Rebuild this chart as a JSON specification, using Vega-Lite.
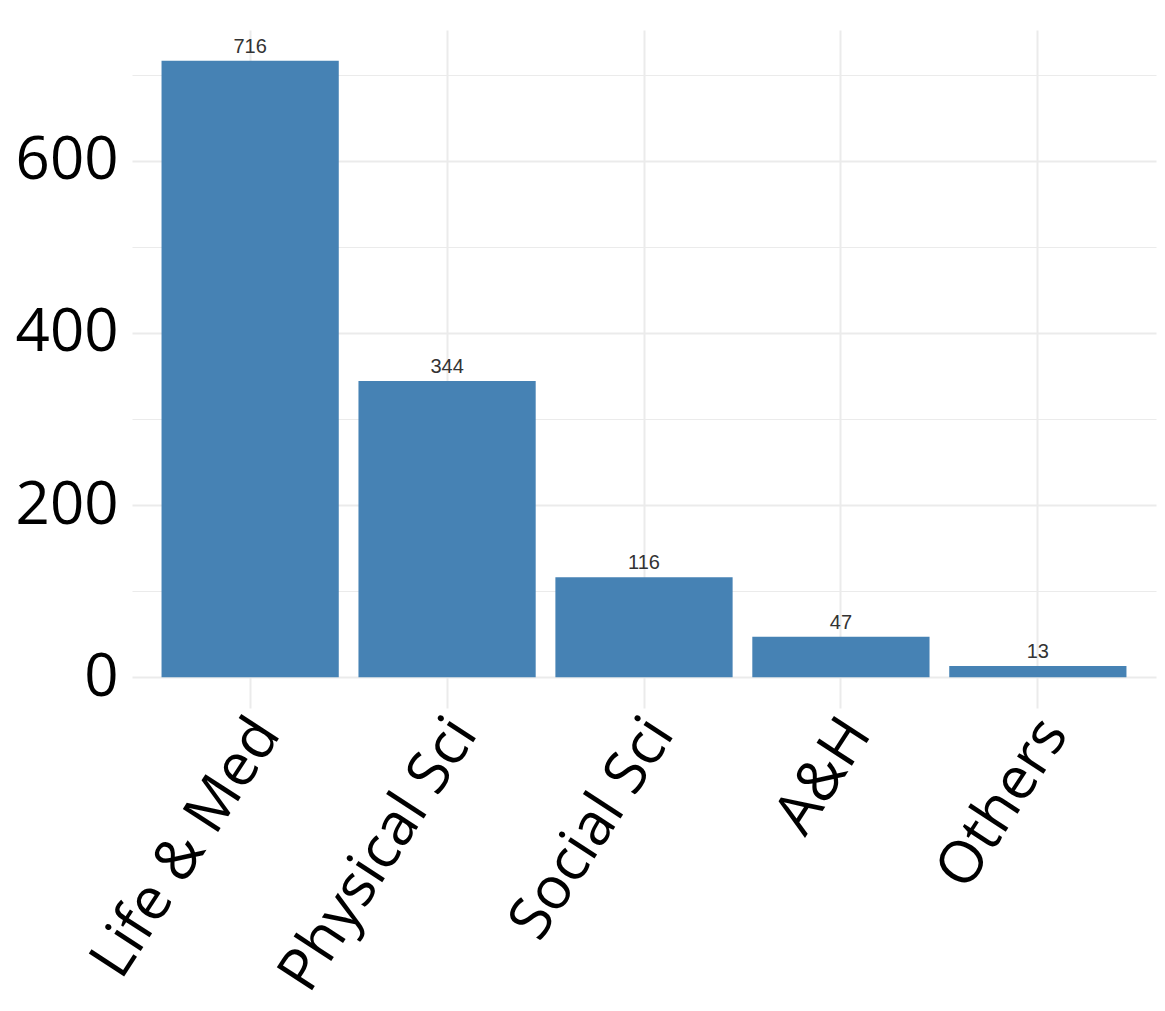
{
  "$schema": "https://vega.github.io/schema/vega-lite/v6.json",
  "autosize": "none",
  "width": 1024,
  "height": 678,
  "padding": {"left": 132, "top": 30, "right": 9, "bottom": 303},
  "background": "white",
  "config": {"view": {"stroke": null}},
  "data": {"values": [
    {"field": "Life & Med", "count": 716},
    {"field": "Physical Sci", "count": 344},
    {"field": "Social Sci", "count": 116},
    {"field": "A&H", "count": 47},
    {"field": "Others", "count": 13}
  ]},
  "encoding": {
    "x": {
      "field": "field", "type": "nominal", "sort": null,
      "scale": {"paddingInner": 0.1, "paddingOuter": 0.15},
      "axis": {
        "title": null, "domain": false, "ticks": false,
        "grid": true, "gridColor": "#ebebeb", "gridWidth": 2, "bandPosition": 0.5,
        "labelAngle": -57, "labelAlign": "right", "labelBaseline": "top",
        "labelFont": "Open Sans", "labelFontSize": 59, "labelColor": "#000000",
        "labelPadding": 0, "labelOffset": -8, "labelOverlap": false, "labelLimit": 0
      }
    },
    "y": {
      "field": "count", "type": "quantitative",
      "scale": {"domain": [-35.8, 751.8], "nice": false, "zero": false},
      "axis": {
        "title": null, "domain": false, "ticks": false,
        "values": [0, 100, 200, 300, 400, 500, 600, 700],
        "labelExpr": "datum.value % 200 === 0 ? datum.label : ''",
        "grid": true, "gridColor": "#ebebeb",
        "gridWidth": {"condition": {"test": "datum.value % 200 === 0", "value": 2}, "value": 1.2},
        "labelFont": "Open Sans", "labelFontSize": 60, "labelColor": "#000000",
        "labelPadding": 14
      }
    }
  },
  "layer": [
    {"mark": {"type": "bar", "color": "#4682b4"},
     "encoding": {"y2": {"datum": 0}}},
    {"mark": {"type": "text", "baseline": "bottom", "dy": -4, "font": "Liberation Sans", "fontSize": 20, "color": "#333333"},
     "encoding": {"text": {"field": "count", "type": "quantitative"}}}
  ]
}
